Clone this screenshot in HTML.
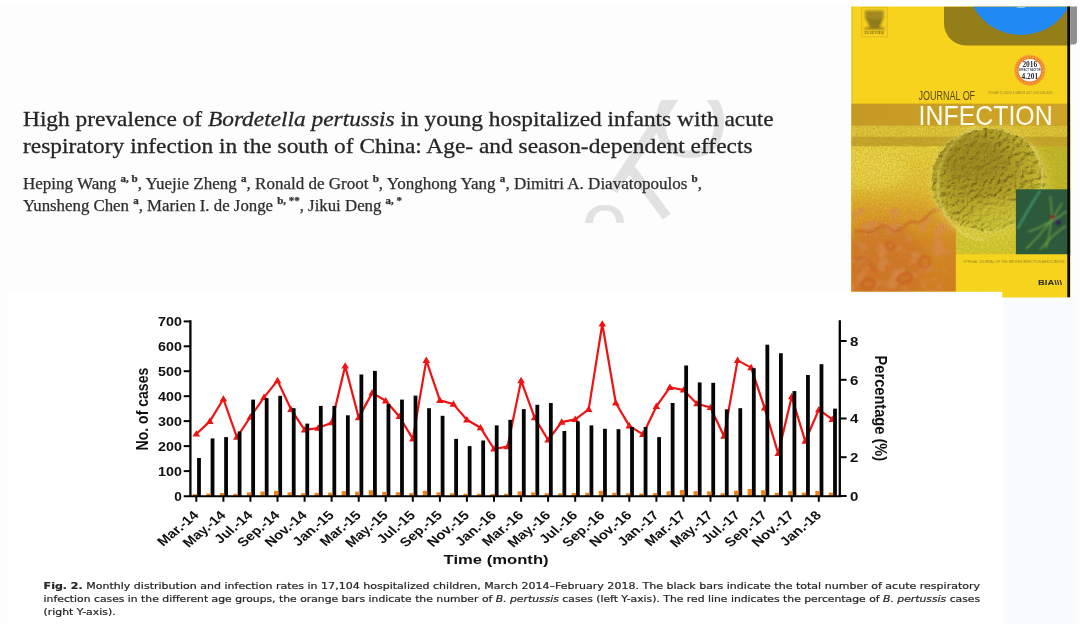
<!DOCTYPE html>
<html lang="en"><head><meta charset="utf-8"><title>Bordetella pertussis in hospitalized infants</title>
<style>
html,body{margin:0;padding:0;background:#fdfdfd;}
#chartbg{position:absolute;left:8px;top:292px;width:995px;height:332px;background:#fff;}
#topstrip{position:absolute;left:0;top:0;width:1080px;height:6.4px;background:#fff;}
svg{filter:blur(0.55px);}
#bgband{position:absolute;left:1004px;top:297px;width:71px;height:327px;background:#fafbfd;}
body{width:1080px;height:624px;position:relative;overflow:hidden;font-family:"Liberation Serif",serif;color:#222;}
#wm{position:absolute;left:560px;top:100px;width:240px;height:122.5px;overflow:hidden;font-family:"Liberation Sans",sans-serif;color:#e2e2e2;}
#wm span{position:absolute;display:block;white-space:nowrap;text-align:center;}
</style></head><body>
<div id="topstrip"></div><div id="chartbg"></div>
<div id="bgband"></div>
<div id="wm">
<span style="left:62.5px;top:-21px;width:40px;height:130px;font-size:118px;line-height:130px;transform:rotate(33.2deg) scaleY(1.35)">l</span>
<span style="left:67.5px;top:42.4px;width:40px;height:100px;font-size:90px;line-height:100px;transform:rotate(-37deg) scaleX(1.22)">l</span>
<span style="left:80px;top:-28.5px;width:100px;height:100px;font-size:100px;line-height:100px">O</span>
<span style="left:14.5px;top:81px;width:60px;height:80px;font-size:84px;line-height:80px">o</span>
</div>
<svg id="toptext" width="1080" height="624" viewBox="0 0 1080 624" style="position:absolute;left:0;top:0">
<g font-family="'Liberation Serif', 'DejaVu Serif', serif" fill="#262626" stroke="#262626" stroke-width="0.3">
<text x="23" y="126.3" font-size="22" textLength="750.7" lengthAdjust="spacingAndGlyphs">High prevalence of <tspan font-style="italic">Bordetella pertussis</tspan> in young hospitalized infants with acute</text>
<text x="23" y="153.3" font-size="22" textLength="729.5" lengthAdjust="spacingAndGlyphs">respiratory infection in the south of China: Age- and season-dependent effects</text>
<g fill="#2e2e2e" stroke="#2e2e2e" stroke-width="0.25">
<text x="23" y="189.3" font-size="16" textLength="679" lengthAdjust="spacingAndGlyphs">Heping Wang <tspan dy="-7" font-size="10.4" font-weight="bold">a, b</tspan><tspan dy="7">, Yuejie Zheng </tspan><tspan dy="-7" font-size="10.4" font-weight="bold">a</tspan><tspan dy="7">, Ronald de Groot </tspan><tspan dy="-7" font-size="10.4" font-weight="bold">b</tspan><tspan dy="7">, Yonghong Yang </tspan><tspan dy="-7" font-size="10.4" font-weight="bold">a</tspan><tspan dy="7">, Dimitri A. Diavatopoulos </tspan><tspan dy="-7" font-size="10.4" font-weight="bold">b</tspan><tspan dy="7">,</tspan></text>
<text x="23" y="211.3" font-size="16" textLength="379" lengthAdjust="spacingAndGlyphs">Yunsheng Chen <tspan dy="-7" font-size="10.4" font-weight="bold">a</tspan><tspan dy="7">, Marien I. de Jonge </tspan><tspan dy="-7" font-size="10.4" font-weight="bold">b, **</tspan><tspan dy="7">, Jikui Deng </tspan><tspan dy="-7" font-size="10.4" font-weight="bold">a, *</tspan><tspan dy="7"></tspan></text>
</g></g></svg>
<svg id="cover" width="1080" height="624" viewBox="0 0 1080 624" style="position:absolute;left:0;top:0">
<defs>
<clipPath id="cv"><path d="M851.4 6.4H1070.2V297.2H1002.5V291.6H851.4Z"/></clipPath>
<clipPath id="top6"><rect x="0" y="6.4" width="1080" height="400"/></clipPath>
<clipPath id="orgc"><rect x="851" y="146.5" width="105" height="152"/></clipPath>
<radialGradient id="blob" cx="0.40" cy="0.36" r="0.70"><stop offset="0" stop-color="#a8931f"/><stop offset="0.4" stop-color="#ad9920"/><stop offset="0.68" stop-color="#c0b229"/><stop offset="0.9" stop-color="#d4cb38"/><stop offset="1" stop-color="#ebe568"/></radialGradient>
<linearGradient id="org" x1="0" y1="0" x2="0" y2="1"><stop offset="0" stop-color="#ecd43c"/><stop offset="0.26" stop-color="#e8c332"/><stop offset="0.42" stop-color="#e2a026"/><stop offset="0.65" stop-color="#dc8520"/><stop offset="1" stop-color="#d8761e"/></linearGradient>
<linearGradient id="band1" x1="0" y1="0" x2="1" y2="0"><stop offset="0" stop-color="#c49a24"/><stop offset="1" stop-color="#cfa528"/></linearGradient>
<linearGradient id="photo" x1="0" y1="0" x2="1" y2="0.6"><stop offset="0" stop-color="#ecd53a"/><stop offset="0.55" stop-color="#dcc730"/><stop offset="1" stop-color="#c4bb26"/></linearGradient>
<filter id="noise" x="0" y="0" width="1" height="1"><feTurbulence type="fractalNoise" baseFrequency="0.6" numOctaves="2" seed="4"/><feColorMatrix type="matrix" values="0 0 0 0 0.38  0 0 0 0 0.30  0 0 0 0 0.03  1.4 1.4 0 0 -1.05"/></filter>
<filter id="speck" x="0" y="0" width="1" height="1"><feTurbulence type="fractalNoise" baseFrequency="0.75" numOctaves="1" seed="11"/><feColorMatrix type="matrix" values="0 0 0 0 1  0 0 0 0 0.97  0 0 0 0 0.62  0 3.2 0 0 -2.0"/></filter>
<filter id="bump" x="-0.1" y="-0.1" width="1.2" height="1.2"><feTurbulence type="fractalNoise" baseFrequency="0.22" numOctaves="3" seed="7" result="n"/><feDisplacementMap in="SourceGraphic" in2="n" scale="7" xChannelSelector="R" yChannelSelector="G" result="d"/><feDiffuseLighting in="n" surfaceScale="2.4" diffuseConstant="1.16" lighting-color="#ffffff" result="l"><feDistantLight azimuth="235" elevation="52"/></feDiffuseLighting><feComposite in="l" in2="d" operator="in" result="lc"/><feBlend in="lc" in2="d" mode="multiply" result="m"/><feComposite in="m" in2="d" operator="in"/></filter>
<filter id="cells" x="-0.1" y="-0.1" width="1.2" height="1.2"><feTurbulence type="fractalNoise" baseFrequency="0.09" numOctaves="2" seed="23" result="n"/><feColorMatrix in="n" type="matrix" values="0 0 0 0 0.74  0 0 0 0 0.25  0 0 0 0 0.09  0 5 0 0 -2.45" result="c"/><feComposite in="c" in2="SourceGraphic" operator="in"/></filter>
<filter id="b1"><feGaussianBlur stdDeviation="1.1"/></filter>
<filter id="b2"><feGaussianBlur stdDeviation="2.5"/></filter>
<filter id="b4"><feGaussianBlur stdDeviation="5"/></filter>
</defs>
<g clip-path="url(#cv)">
<rect x="851" y="6" width="220" height="292" fill="#f7d31e"/>
<rect x="851.4" y="6" width="1" height="292" fill="#c9a71e" opacity="0.7"/>
<rect x="851" y="103.6" width="220" height="22.4" fill="url(#band1)"/>
<rect x="851" y="125.8" width="220" height="130" fill="url(#photo)"/>
<rect x="851" y="125.8" width="220" height="11" fill="#e2c636"/>
<rect x="851" y="136.7" width="220" height="9.9" fill="#c8a528"/>
<rect x="851" y="146.5" width="105" height="152" fill="url(#org)"/>
<g clip-path="url(#orgc)">
<g filter="url(#b4)"><ellipse cx="884" cy="262" rx="40" ry="40" fill="#d2622a" opacity="0.5"/><ellipse cx="868" cy="170" rx="40" ry="18" fill="#f2df52" opacity="0.55"/></g>
<g filter="url(#b1)" opacity="0.75"><rect x="851" y="208" width="100" height="90" filter="url(#cells)"/></g>
<g filter="url(#b1)" fill="none" stroke="#c84a22" stroke-width="1.6" opacity="0.75"><ellipse cx="905" cy="278" rx="7" ry="4.5" transform="rotate(-20 905 278)"/><ellipse cx="925" cy="262" rx="5" ry="6"/><ellipse cx="868" cy="284" rx="6" ry="5"/><circle cx="890" cy="246" r="4"/><path d="M855 232c6-4 10 2 16 0s8-8 14-6 8 8 14 4 10-10 16-8 10-4 14-8 10-4 16-6"/><path d="M853 258c5 3 9-3 14 1s3 10 9 12"/></g>
</g>
<rect x="1030" y="146.5" width="41" height="44" fill="#c3ba26"/>
<rect x="955.8" y="228" width="61" height="27" fill="#d9cd30"/>
<g filter="url(#b4)"><ellipse cx="989" cy="183" rx="60" ry="55" fill="#e9df55" opacity="0.55"/></g>
<g filter="url(#bump)"><ellipse cx="988.5" cy="180" rx="57" ry="51.5" fill="url(#blob)"/></g>
<g filter="url(#b1)"><ellipse cx="988.5" cy="180.5" rx="58" ry="52" fill="none" stroke="#f1ea80" stroke-width="1.8" opacity="0.75" stroke-dasharray="150 60 90 40" transform="rotate(100 988.5 182)"/></g>
<g filter="url(#b4)"><ellipse cx="974" cy="160" rx="32" ry="22" fill="#8f7c18" opacity="0.5"/><ellipse cx="1004" cy="214" rx="34" ry="14" fill="#d6cf3a" opacity="0.5"/></g>
<rect x="851" y="125.8" width="220" height="166" filter="url(#noise)" opacity="0.5"/>
<rect x="851" y="125.8" width="180" height="110" filter="url(#speck)" opacity="0.55"/>
<rect x="955.8" y="254.2" width="116" height="44" fill="#f6d31c"/>
<rect x="1015.9" y="189.3" width="55" height="64.9" fill="#2c5a3a"/>
<g filter="url(#b1)"><g fill="none" stroke="#8fbe4e" stroke-width="1.1" opacity="0.85"><path d="M1026 249C1040 236 1052 222 1062 203"/><path d="M1028 232C1042 227 1054 221 1067 211"/><path d="M1050 196C1053 210 1051 230 1046 248"/><path d="M1040 250C1048 240 1056 232 1066 226"/></g>
<path d="M1018 228C1024 217 1030 206 1040 191" stroke="#58d8a8" stroke-width="1.6" fill="none" stroke-dasharray="2.2 1.2" opacity="0.9"/>
<circle cx="1052.5" cy="217" r="2.4" fill="#8c1a30"/><circle cx="1058" cy="222" r="2.8" fill="#38205e"/></g>
<g clip-path="url(#top6)"><path d="M944 0H1080V45.4H966A22 22 0 0 1 944 23.4Z" fill="#947e19"/><circle cx="1021" cy="-19.2" r="54.2" fill="#2089f4"/><ellipse cx="1021" cy="6" rx="5.5" ry="1.8" fill="#d6e9ff" opacity="0.85"/></g>
<rect x="1067.3" y="6" width="3" height="292" fill="#0a0a0a"/>
<rect x="861.7" y="7.2" width="25.6" height="29.8" fill="#f5d01f" stroke="#dcb81c" stroke-width="0.8"/>
<g filter="url(#b1)" opacity="0.9"><rect x="865" y="10.5" width="18.6" height="8.5" fill="#9a8320"/><path d="M866 19h17l-3.5 8.6h5v2h-20v-2h5.5z" fill="#86711a"/></g>
<text x="864.6" y="34" font-family="'Liberation Serif', serif" font-size="3.4" font-weight="bold" fill="#7d6a18" textLength="19.5" lengthAdjust="spacingAndGlyphs">ELSEVIER</text>
<circle cx="1029.8" cy="70.3" r="15.6" fill="#f3a83a"/><circle cx="1029.8" cy="70.3" r="14.4" fill="#ef7f20"/><circle cx="1029.8" cy="70.3" r="13.2" fill="none" stroke="#f8c46a" stroke-width="1" stroke-dasharray="1.6 1.2"/><circle cx="1029.8" cy="70.3" r="11.3" fill="#ffffff"/>
<g font-family="'Liberation Serif', serif" font-weight="bold" text-anchor="middle" fill="#2b2b33"><text x="1029.8" y="67.2" font-size="7.4">2016</text><text x="1029.8" y="78.8" font-size="7.4">4.201</text></g>
<text x="1029.8" y="71" font-family="'Liberation Sans', sans-serif" font-size="2.7" font-weight="bold" text-anchor="middle" fill="#3c4a66">IMPACT FACTOR</text>
<text x="918.6" y="100.2" font-family="'Liberation Sans', sans-serif" font-size="12.4" fill="#5b4a12" textLength="56.5" lengthAdjust="spacingAndGlyphs">JOURNAL OF</text>
<text x="988" y="93.5" font-family="'Liberation Sans', sans-serif" font-size="2.9" fill="#9a8420" textLength="64.5" lengthAdjust="spacingAndGlyphs">VOLUME 74, ISSUE 3, MARCH 2017, ISSN 0163-4453</text>
<text x="918.6" y="124.6" font-family="'Liberation Sans', sans-serif" font-size="27.2" fill="#fffdf0" textLength="134" lengthAdjust="spacingAndGlyphs">INFECTION</text>
<text x="963" y="263.3" font-family="'Liberation Sans', sans-serif" font-size="3.6" fill="#9a8628" textLength="101.5" lengthAdjust="spacingAndGlyphs">OFFICIAL JOURNAL OF THE BRITISH INFECTION ASSOCIATION</text>
<text x="1038" y="285.4" font-family="'Liberation Sans', sans-serif" font-size="7.4" font-weight="bold" fill="#2a2a2a" textLength="24" lengthAdjust="spacingAndGlyphs">BIA\\\</text>
</g>
<path d="M1070.2 6.4H1077V41A3.6 3.6 0 0 1 1073.4 44.6H1070.2Z" fill="#8f8f8f"/>
</svg>
<svg id="chart" width="1080" height="624" viewBox="0 0 1080 624" style="position:absolute;left:0;top:0">
<g font-family="'Liberation Sans', sans-serif" font-weight="bold" fill="#111">
<polyline points="196.3,434.0 209.8,421.4 223.4,399.0 236.9,437.1 250.4,417.0 264.0,397.4 277.5,380.6 291.0,409.3 304.6,429.9 318.1,428.1 331.6,422.7 345.2,366.0 358.7,417.6 372.2,392.9 385.7,400.8 399.3,416.5 412.8,438.9 426.3,360.4 439.9,400.3 453.4,404.1 466.9,419.8 480.5,427.7 494.0,449.0 507.5,446.7 521.1,380.6 534.6,417.6 548.1,440.0 561.7,422.1 575.2,419.4 588.7,409.3 602.3,324.0 615.8,403.0 629.3,425.9 642.9,434.4 656.4,406.4 669.9,387.3 683.5,390.0 697.0,403.7 710.5,407.5 724.0,436.2 737.6,360.4 751.1,367.6 764.6,407.9 778.2,453.5 791.7,396.7 805.2,441.1 818.8,409.7 832.3,419.4" fill="none" stroke="#ef1212" stroke-width="2.2" stroke-linejoin="round"/>
<path d="M192.5 436.6L200.1 436.6L196.3 430.2Z" fill="#ef1212"/>
<path d="M206.0 424.0L213.6 424.0L209.8 417.6Z" fill="#ef1212"/>
<path d="M219.6 401.6L227.2 401.6L223.4 395.2Z" fill="#ef1212"/>
<path d="M233.1 439.7L240.7 439.7L236.9 433.3Z" fill="#ef1212"/>
<path d="M246.6 419.6L254.2 419.6L250.4 413.2Z" fill="#ef1212"/>
<path d="M260.2 400.0L267.8 400.0L264.0 393.6Z" fill="#ef1212"/>
<path d="M273.7 383.2L281.3 383.2L277.5 376.8Z" fill="#ef1212"/>
<path d="M287.2 411.9L294.8 411.9L291.0 405.5Z" fill="#ef1212"/>
<path d="M300.8 432.5L308.4 432.5L304.6 426.1Z" fill="#ef1212"/>
<path d="M314.3 430.7L321.9 430.7L318.1 424.3Z" fill="#ef1212"/>
<path d="M327.8 425.3L335.4 425.3L331.6 418.9Z" fill="#ef1212"/>
<path d="M341.4 368.6L349.0 368.6L345.2 362.2Z" fill="#ef1212"/>
<path d="M354.9 420.2L362.5 420.2L358.7 413.8Z" fill="#ef1212"/>
<path d="M368.4 395.5L376.0 395.5L372.2 389.1Z" fill="#ef1212"/>
<path d="M381.9 403.4L389.5 403.4L385.7 397.0Z" fill="#ef1212"/>
<path d="M395.5 419.1L403.1 419.1L399.3 412.7Z" fill="#ef1212"/>
<path d="M409.0 441.5L416.6 441.5L412.8 435.1Z" fill="#ef1212"/>
<path d="M422.5 363.0L430.1 363.0L426.3 356.6Z" fill="#ef1212"/>
<path d="M436.1 402.9L443.7 402.9L439.9 396.5Z" fill="#ef1212"/>
<path d="M449.6 406.7L457.2 406.7L453.4 400.3Z" fill="#ef1212"/>
<path d="M463.1 422.4L470.7 422.4L466.9 416.0Z" fill="#ef1212"/>
<path d="M476.7 430.3L484.3 430.3L480.5 423.9Z" fill="#ef1212"/>
<path d="M490.2 451.6L497.8 451.6L494.0 445.2Z" fill="#ef1212"/>
<path d="M503.7 449.3L511.3 449.3L507.5 442.9Z" fill="#ef1212"/>
<path d="M517.3 383.2L524.9 383.2L521.1 376.8Z" fill="#ef1212"/>
<path d="M530.8 420.2L538.4 420.2L534.6 413.8Z" fill="#ef1212"/>
<path d="M544.3 442.6L551.9 442.6L548.1 436.2Z" fill="#ef1212"/>
<path d="M557.9 424.7L565.5 424.7L561.7 418.3Z" fill="#ef1212"/>
<path d="M571.4 422.0L579.0 422.0L575.2 415.6Z" fill="#ef1212"/>
<path d="M584.9 411.9L592.5 411.9L588.7 405.5Z" fill="#ef1212"/>
<path d="M598.5 326.6L606.1 326.6L602.3 320.2Z" fill="#ef1212"/>
<path d="M612.0 405.6L619.6 405.6L615.8 399.2Z" fill="#ef1212"/>
<path d="M625.5 428.5L633.1 428.5L629.3 422.1Z" fill="#ef1212"/>
<path d="M639.1 437.0L646.7 437.0L642.9 430.6Z" fill="#ef1212"/>
<path d="M652.6 409.0L660.2 409.0L656.4 402.6Z" fill="#ef1212"/>
<path d="M666.1 389.9L673.7 389.9L669.9 383.5Z" fill="#ef1212"/>
<path d="M679.7 392.6L687.3 392.6L683.5 386.2Z" fill="#ef1212"/>
<path d="M693.2 406.3L700.8 406.3L697.0 399.9Z" fill="#ef1212"/>
<path d="M706.7 410.1L714.3 410.1L710.5 403.7Z" fill="#ef1212"/>
<path d="M720.2 438.8L727.8 438.8L724.0 432.4Z" fill="#ef1212"/>
<path d="M733.8 363.0L741.4 363.0L737.6 356.6Z" fill="#ef1212"/>
<path d="M747.3 370.2L754.9 370.2L751.1 363.8Z" fill="#ef1212"/>
<path d="M760.8 410.5L768.4 410.5L764.6 404.1Z" fill="#ef1212"/>
<path d="M774.4 456.1L782.0 456.1L778.2 449.7Z" fill="#ef1212"/>
<path d="M787.9 399.3L795.5 399.3L791.7 392.9Z" fill="#ef1212"/>
<path d="M801.4 443.7L809.0 443.7L805.2 437.3Z" fill="#ef1212"/>
<path d="M815.0 412.3L822.6 412.3L818.8 405.9Z" fill="#ef1212"/>
<path d="M828.5 422.0L836.1 422.0L832.3 415.6Z" fill="#ef1212"/>
<rect x="197.10" y="458.0" width="3.8" height="38.5" fill="#050505"/>
<rect x="192.80" y="494.2" width="4.4" height="1.8" fill="#ef8212"/>
<rect x="210.63" y="438.4" width="3.8" height="58.1" fill="#050505"/>
<rect x="206.33" y="493.5" width="4.4" height="2.5" fill="#ef8212"/>
<rect x="224.16" y="437.1" width="3.8" height="59.4" fill="#050505"/>
<rect x="219.86" y="493.0" width="4.4" height="3.0" fill="#ef8212"/>
<rect x="237.70" y="431.5" width="3.8" height="65.0" fill="#050505"/>
<rect x="233.40" y="493.7" width="4.4" height="2.3" fill="#ef8212"/>
<rect x="251.23" y="399.6" width="3.8" height="96.9" fill="#050505"/>
<rect x="246.93" y="492.3" width="4.4" height="3.7" fill="#ef8212"/>
<rect x="264.76" y="398.1" width="3.8" height="98.4" fill="#050505"/>
<rect x="260.46" y="491.5" width="4.4" height="4.5" fill="#ef8212"/>
<rect x="278.29" y="395.8" width="3.8" height="100.7" fill="#050505"/>
<rect x="273.99" y="490.8" width="4.4" height="5.2" fill="#ef8212"/>
<rect x="291.82" y="408.2" width="3.8" height="88.3" fill="#050505"/>
<rect x="287.52" y="492.3" width="4.4" height="3.7" fill="#ef8212"/>
<rect x="305.36" y="423.6" width="3.8" height="72.9" fill="#050505"/>
<rect x="301.06" y="493.3" width="4.4" height="2.7" fill="#ef8212"/>
<rect x="318.89" y="405.9" width="3.8" height="90.6" fill="#050505"/>
<rect x="314.59" y="492.8" width="4.4" height="3.2" fill="#ef8212"/>
<rect x="332.42" y="405.9" width="3.8" height="90.6" fill="#050505"/>
<rect x="328.12" y="492.6" width="4.4" height="3.4" fill="#ef8212"/>
<rect x="345.95" y="415.3" width="3.8" height="81.2" fill="#050505"/>
<rect x="341.65" y="491.2" width="4.4" height="4.8" fill="#ef8212"/>
<rect x="359.48" y="374.5" width="3.8" height="122.0" fill="#050505"/>
<rect x="355.18" y="491.6" width="4.4" height="4.4" fill="#ef8212"/>
<rect x="373.02" y="370.9" width="3.8" height="125.6" fill="#050505"/>
<rect x="368.72" y="490.3" width="4.4" height="5.7" fill="#ef8212"/>
<rect x="386.55" y="404.1" width="3.8" height="92.4" fill="#050505"/>
<rect x="382.25" y="491.9" width="4.4" height="4.1" fill="#ef8212"/>
<rect x="400.08" y="399.6" width="3.8" height="96.9" fill="#050505"/>
<rect x="395.78" y="492.3" width="4.4" height="3.7" fill="#ef8212"/>
<rect x="413.61" y="395.6" width="3.8" height="100.9" fill="#050505"/>
<rect x="409.31" y="493.0" width="4.4" height="3.0" fill="#ef8212"/>
<rect x="427.14" y="408.2" width="3.8" height="88.3" fill="#050505"/>
<rect x="422.84" y="490.7" width="4.4" height="5.3" fill="#ef8212"/>
<rect x="440.68" y="415.8" width="3.8" height="80.7" fill="#050505"/>
<rect x="436.38" y="492.3" width="4.4" height="3.7" fill="#ef8212"/>
<rect x="454.21" y="438.9" width="3.8" height="57.6" fill="#050505"/>
<rect x="449.91" y="493.2" width="4.4" height="2.8" fill="#ef8212"/>
<rect x="467.74" y="446.1" width="3.8" height="50.4" fill="#050505"/>
<rect x="463.44" y="493.7" width="4.4" height="2.3" fill="#ef8212"/>
<rect x="481.27" y="440.5" width="3.8" height="56.0" fill="#050505"/>
<rect x="476.97" y="493.7" width="4.4" height="2.3" fill="#ef8212"/>
<rect x="494.80" y="425.4" width="3.8" height="71.1" fill="#050505"/>
<rect x="490.50" y="493.9" width="4.4" height="2.1" fill="#ef8212"/>
<rect x="508.34" y="419.8" width="3.8" height="76.7" fill="#050505"/>
<rect x="504.04" y="493.7" width="4.4" height="2.3" fill="#ef8212"/>
<rect x="521.87" y="409.1" width="3.8" height="87.4" fill="#050505"/>
<rect x="517.57" y="491.4" width="4.4" height="4.6" fill="#ef8212"/>
<rect x="535.40" y="404.8" width="3.8" height="91.7" fill="#050505"/>
<rect x="531.10" y="492.4" width="4.4" height="3.6" fill="#ef8212"/>
<rect x="548.93" y="403.0" width="3.8" height="93.5" fill="#050505"/>
<rect x="544.63" y="493.2" width="4.4" height="2.8" fill="#ef8212"/>
<rect x="562.46" y="431.0" width="3.8" height="65.5" fill="#050505"/>
<rect x="558.16" y="493.3" width="4.4" height="2.7" fill="#ef8212"/>
<rect x="576.00" y="421.4" width="3.8" height="75.1" fill="#050505"/>
<rect x="571.70" y="493.0" width="4.4" height="3.0" fill="#ef8212"/>
<rect x="589.53" y="425.4" width="3.8" height="71.1" fill="#050505"/>
<rect x="585.23" y="492.8" width="4.4" height="3.2" fill="#ef8212"/>
<rect x="603.06" y="428.8" width="3.8" height="67.7" fill="#050505"/>
<rect x="598.76" y="490.8" width="4.4" height="5.2" fill="#ef8212"/>
<rect x="616.59" y="429.2" width="3.8" height="67.3" fill="#050505"/>
<rect x="612.29" y="492.8" width="4.4" height="3.2" fill="#ef8212"/>
<rect x="630.12" y="427.0" width="3.8" height="69.5" fill="#050505"/>
<rect x="625.82" y="493.3" width="4.4" height="2.7" fill="#ef8212"/>
<rect x="643.66" y="427.0" width="3.8" height="69.5" fill="#050505"/>
<rect x="639.36" y="493.5" width="4.4" height="2.5" fill="#ef8212"/>
<rect x="657.19" y="437.1" width="3.8" height="59.4" fill="#050505"/>
<rect x="652.89" y="493.1" width="4.4" height="2.9" fill="#ef8212"/>
<rect x="670.72" y="403.0" width="3.8" height="93.5" fill="#050505"/>
<rect x="666.42" y="491.3" width="4.4" height="4.7" fill="#ef8212"/>
<rect x="684.25" y="365.5" width="3.8" height="131.0" fill="#050505"/>
<rect x="679.95" y="490.0" width="4.4" height="6.0" fill="#ef8212"/>
<rect x="697.78" y="382.4" width="3.8" height="114.1" fill="#050505"/>
<rect x="693.48" y="491.2" width="4.4" height="4.8" fill="#ef8212"/>
<rect x="711.32" y="382.8" width="3.8" height="113.7" fill="#050505"/>
<rect x="707.02" y="491.4" width="4.4" height="4.6" fill="#ef8212"/>
<rect x="724.85" y="409.3" width="3.8" height="87.2" fill="#050505"/>
<rect x="720.55" y="493.2" width="4.4" height="2.8" fill="#ef8212"/>
<rect x="738.38" y="408.2" width="3.8" height="88.3" fill="#050505"/>
<rect x="734.08" y="490.7" width="4.4" height="5.3" fill="#ef8212"/>
<rect x="751.91" y="368.2" width="3.8" height="128.3" fill="#050505"/>
<rect x="747.61" y="489.0" width="4.4" height="7.0" fill="#ef8212"/>
<rect x="765.44" y="344.7" width="3.8" height="151.8" fill="#050505"/>
<rect x="761.14" y="490.2" width="4.4" height="5.8" fill="#ef8212"/>
<rect x="778.98" y="353.2" width="3.8" height="143.3" fill="#050505"/>
<rect x="774.68" y="492.8" width="4.4" height="3.2" fill="#ef8212"/>
<rect x="792.51" y="391.1" width="3.8" height="105.4" fill="#050505"/>
<rect x="788.21" y="491.2" width="4.4" height="4.8" fill="#ef8212"/>
<rect x="806.04" y="375.0" width="3.8" height="121.5" fill="#050505"/>
<rect x="801.74" y="492.6" width="4.4" height="3.4" fill="#ef8212"/>
<rect x="819.57" y="364.2" width="3.8" height="132.3" fill="#050505"/>
<rect x="815.27" y="490.9" width="4.4" height="5.1" fill="#ef8212"/>
<rect x="833.10" y="408.6" width="3.8" height="87.9" fill="#050505"/>
<rect x="828.80" y="492.6" width="4.4" height="3.4" fill="#ef8212"/>
<path d="M190.4 320.3V497M839.8 320.3V497" stroke="#050505" stroke-width="2.3" fill="none"/>
<path d="M183.7 496.2H841" stroke="#050505" stroke-width="2.1" fill="none"/>
<text x="174.3" y="500.9" font-size="13.6" textLength="7.6" lengthAdjust="spacingAndGlyphs">0</text>
<path d="M183.7 471.1H190.4" stroke="#050505" stroke-width="2"/>
<text x="158.1" y="475.9" font-size="13.6" textLength="23.8" lengthAdjust="spacingAndGlyphs">100</text>
<path d="M183.7 446.1H190.4" stroke="#050505" stroke-width="2"/>
<text x="158.1" y="451.0" font-size="13.6" textLength="23.8" lengthAdjust="spacingAndGlyphs">200</text>
<path d="M183.7 421.1H190.4" stroke="#050505" stroke-width="2"/>
<text x="158.1" y="426.0" font-size="13.6" textLength="23.8" lengthAdjust="spacingAndGlyphs">300</text>
<path d="M183.7 396.2H190.4" stroke="#050505" stroke-width="2"/>
<text x="158.1" y="401.1" font-size="13.6" textLength="23.8" lengthAdjust="spacingAndGlyphs">400</text>
<path d="M183.7 371.2H190.4" stroke="#050505" stroke-width="2"/>
<text x="158.1" y="376.1" font-size="13.6" textLength="23.8" lengthAdjust="spacingAndGlyphs">500</text>
<path d="M183.7 346.3H190.4" stroke="#050505" stroke-width="2"/>
<text x="158.1" y="351.2" font-size="13.6" textLength="23.8" lengthAdjust="spacingAndGlyphs">600</text>
<path d="M183.7 321.4H190.4" stroke="#050505" stroke-width="2"/>
<text x="158.1" y="326.2" font-size="13.6" textLength="23.8" lengthAdjust="spacingAndGlyphs">700</text>
<path d="M839.8 496.0H846.6" stroke="#050505" stroke-width="2"/>
<text x="850" y="500.9" font-size="13.6" textLength="8.4" lengthAdjust="spacingAndGlyphs">0</text>
<path d="M839.8 457.2H846.6" stroke="#050505" stroke-width="2"/>
<text x="850" y="462.1" font-size="13.6" textLength="8.4" lengthAdjust="spacingAndGlyphs">2</text>
<path d="M839.8 418.5H846.6" stroke="#050505" stroke-width="2"/>
<text x="850" y="423.4" font-size="13.6" textLength="8.4" lengthAdjust="spacingAndGlyphs">4</text>
<path d="M839.8 379.8H846.6" stroke="#050505" stroke-width="2"/>
<text x="850" y="384.6" font-size="13.6" textLength="8.4" lengthAdjust="spacingAndGlyphs">6</text>
<path d="M839.8 341.0H846.6" stroke="#050505" stroke-width="2"/>
<text x="850" y="345.9" font-size="13.6" textLength="8.4" lengthAdjust="spacingAndGlyphs">8</text>
<path d="M196.3 496V501.8" stroke="#050505" stroke-width="2"/>
<text transform="translate(199.5 516) scale(1.18 1) rotate(-45)" font-size="12.6" text-anchor="end">Mar.-14</text>
<path d="M223.4 496V501.8" stroke="#050505" stroke-width="2"/>
<text transform="translate(226.6 516) scale(1.18 1) rotate(-45)" font-size="12.6" text-anchor="end">May.-14</text>
<path d="M250.4 496V501.8" stroke="#050505" stroke-width="2"/>
<text transform="translate(253.6 516) scale(1.18 1) rotate(-45)" font-size="12.6" text-anchor="end">Jul.-14</text>
<path d="M277.5 496V501.8" stroke="#050505" stroke-width="2"/>
<text transform="translate(280.7 516) scale(1.18 1) rotate(-45)" font-size="12.6" text-anchor="end">Sep.-14</text>
<path d="M304.6 496V501.8" stroke="#050505" stroke-width="2"/>
<text transform="translate(307.8 516) scale(1.18 1) rotate(-45)" font-size="12.6" text-anchor="end">Nov.-14</text>
<path d="M331.6 496V501.8" stroke="#050505" stroke-width="2"/>
<text transform="translate(334.8 516) scale(1.18 1) rotate(-45)" font-size="12.6" text-anchor="end">Jan.-15</text>
<path d="M358.7 496V501.8" stroke="#050505" stroke-width="2"/>
<text transform="translate(361.9 516) scale(1.18 1) rotate(-45)" font-size="12.6" text-anchor="end">Mar.-15</text>
<path d="M385.7 496V501.8" stroke="#050505" stroke-width="2"/>
<text transform="translate(388.9 516) scale(1.18 1) rotate(-45)" font-size="12.6" text-anchor="end">May.-15</text>
<path d="M412.8 496V501.8" stroke="#050505" stroke-width="2"/>
<text transform="translate(416.0 516) scale(1.18 1) rotate(-45)" font-size="12.6" text-anchor="end">Jul.-15</text>
<path d="M439.9 496V501.8" stroke="#050505" stroke-width="2"/>
<text transform="translate(443.1 516) scale(1.18 1) rotate(-45)" font-size="12.6" text-anchor="end">Sep.-15</text>
<path d="M466.9 496V501.8" stroke="#050505" stroke-width="2"/>
<text transform="translate(470.1 516) scale(1.18 1) rotate(-45)" font-size="12.6" text-anchor="end">Nov.-15</text>
<path d="M494.0 496V501.8" stroke="#050505" stroke-width="2"/>
<text transform="translate(497.2 516) scale(1.18 1) rotate(-45)" font-size="12.6" text-anchor="end">Jan.-16</text>
<path d="M521.1 496V501.8" stroke="#050505" stroke-width="2"/>
<text transform="translate(524.3 516) scale(1.18 1) rotate(-45)" font-size="12.6" text-anchor="end">Mar.-16</text>
<path d="M548.1 496V501.8" stroke="#050505" stroke-width="2"/>
<text transform="translate(551.3 516) scale(1.18 1) rotate(-45)" font-size="12.6" text-anchor="end">May.-16</text>
<path d="M575.2 496V501.8" stroke="#050505" stroke-width="2"/>
<text transform="translate(578.4 516) scale(1.18 1) rotate(-45)" font-size="12.6" text-anchor="end">Jul.-16</text>
<path d="M602.3 496V501.8" stroke="#050505" stroke-width="2"/>
<text transform="translate(605.5 516) scale(1.18 1) rotate(-45)" font-size="12.6" text-anchor="end">Sep.-16</text>
<path d="M629.3 496V501.8" stroke="#050505" stroke-width="2"/>
<text transform="translate(632.5 516) scale(1.18 1) rotate(-45)" font-size="12.6" text-anchor="end">Nov.-16</text>
<path d="M656.4 496V501.8" stroke="#050505" stroke-width="2"/>
<text transform="translate(659.6 516) scale(1.18 1) rotate(-45)" font-size="12.6" text-anchor="end">Jan.-17</text>
<path d="M683.5 496V501.8" stroke="#050505" stroke-width="2"/>
<text transform="translate(686.7 516) scale(1.18 1) rotate(-45)" font-size="12.6" text-anchor="end">Mar.-17</text>
<path d="M710.5 496V501.8" stroke="#050505" stroke-width="2"/>
<text transform="translate(713.7 516) scale(1.18 1) rotate(-45)" font-size="12.6" text-anchor="end">May.-17</text>
<path d="M737.6 496V501.8" stroke="#050505" stroke-width="2"/>
<text transform="translate(740.8 516) scale(1.18 1) rotate(-45)" font-size="12.6" text-anchor="end">Jul.-17</text>
<path d="M764.6 496V501.8" stroke="#050505" stroke-width="2"/>
<text transform="translate(767.8 516) scale(1.18 1) rotate(-45)" font-size="12.6" text-anchor="end">Sep.-17</text>
<path d="M791.7 496V501.8" stroke="#050505" stroke-width="2"/>
<text transform="translate(794.9 516) scale(1.18 1) rotate(-45)" font-size="12.6" text-anchor="end">Nov.-17</text>
<path d="M818.8 496V501.8" stroke="#050505" stroke-width="2"/>
<text transform="translate(822.0 516) scale(1.18 1) rotate(-45)" font-size="12.6" text-anchor="end">Jan.-18</text>
<text x="443.6" y="563.9" font-size="13.7" textLength="105" lengthAdjust="spacingAndGlyphs">Time (month)</text>
<text transform="translate(148 450.4) scale(1.18 1) rotate(-90)" font-size="14" textLength="82.7" lengthAdjust="spacingAndGlyphs">No. of cases</text>
<text transform="translate(875 355.6) scale(1.18 1) rotate(90)" font-size="14" textLength="105.5" lengthAdjust="spacingAndGlyphs">Percentage (%)</text>
</g></svg>
<svg id="caption" width="1080" height="624" viewBox="0 0 1080 624" style="position:absolute;left:0;top:0">
<g font-family="'DejaVu Sans', sans-serif" font-size="9.2" fill="#262626" stroke="#262626" stroke-width="0.22">
<text x="43.6" y="588.6" textLength="936.5" lengthAdjust="spacingAndGlyphs"><tspan font-weight="bold">Fig. 2.</tspan> Monthly distribution and infection rates in 17,104 hospitalized children, March 2014–February 2018. The black bars indicate the total number of acute respiratory</text>
<text x="43.6" y="601.8" textLength="936.5" lengthAdjust="spacingAndGlyphs">infection cases in the different age groups, the orange bars indicate the number of <tspan font-style="italic">B. pertussis</tspan> cases (left Y-axis). The red line indicates the percentage of <tspan font-style="italic">B. pertussis</tspan> cases</text>
<text x="43.6" y="615" textLength="72" lengthAdjust="spacingAndGlyphs">(right Y-axis).</text>
</g></svg>
</body></html>
